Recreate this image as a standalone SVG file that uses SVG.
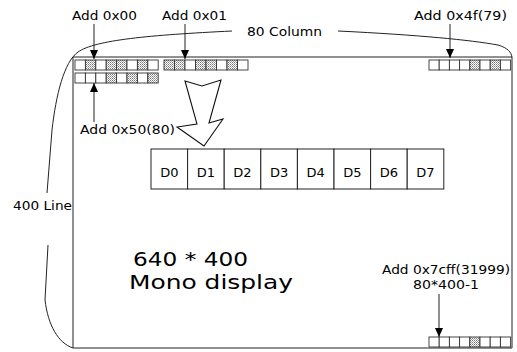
<svg xmlns="http://www.w3.org/2000/svg" width="517" height="352" viewBox="0 0 517 352">
<style>
text{font-family:"DejaVu Sans","Liberation Sans",sans-serif;fill:#000}
.lbl{font-size:13px}
.big{font-size:20px}
.ln{fill:none;stroke:#222;stroke-width:1}
.c{stroke:#333;stroke-width:0.9;fill:#fff}
.g{stroke:#333;stroke-width:0.9;fill:url(#dots)}
.db{fill:#fff;stroke:#222;stroke-width:1}
</style>
<defs>
<pattern id="dots" width="2" height="2" patternUnits="userSpaceOnUse">
<rect width="2" height="2" fill="#fff"/>
<rect width="1" height="1" fill="#777"/>
<rect x="1" y="1" width="1" height="1" fill="#aaa"/>
</pattern>
<marker id="ah" markerUnits="userSpaceOnUse" markerWidth="9" markerHeight="8" refX="9" refY="4" orient="auto">
<path d="M0,0 L9,4 L0,8 z" fill="#000"/>
</marker>
</defs>
<rect width="517" height="352" fill="#fff"/>

<g id="screen">
<path class="ln" d="M73 57 L512 57 L512 348 L73 348 Z"/>
</g>

<g id="brackets">
<path class="ln" d="M232 31 C150 35 95 40 78 52 C64 62 56 95 52 130 L47 193"/>
<path class="ln" d="M48 245 L45 300 C48 325 58 343 73 348"/>
<path class="ln" d="M338 31 C420 35 470 40 498 45 C508 48 511 52 512 57"/>
</g>

<g id="row1-group1">
<rect class="c" x="75" y="60" width="10.4" height="10"/>
<rect class="g" x="85.4" y="60" width="10.4" height="10"/>
<rect class="c" x="95.8" y="60" width="10.4" height="10"/>
<rect class="g" x="106.2" y="60" width="10.4" height="10"/>
<rect class="g" x="116.6" y="60" width="10.4" height="10"/>
<rect class="c" x="127" y="60" width="10.4" height="10"/>
<rect class="g" x="137.4" y="60" width="10.4" height="10"/>
<rect class="c" x="147.8" y="60" width="10.4" height="10"/>
</g>
<g id="row2-group1">
<rect class="c" x="75" y="73" width="10.4" height="10"/>
<rect class="c" x="85.4" y="73" width="10.4" height="10"/>
<rect class="c" x="95.8" y="73" width="10.4" height="10"/>
<rect class="g" x="106.2" y="73" width="10.4" height="10"/>
<rect class="c" x="116.6" y="73" width="10.4" height="10"/>
<rect class="g" x="127" y="73" width="10.4" height="10"/>
<rect class="c" x="137.4" y="73" width="10.4" height="10"/>
<rect class="g" x="147.8" y="73" width="10.4" height="10"/>
</g>
<g id="row1-group2">
<rect class="g" x="164" y="60" width="10.5" height="10"/>
<rect class="g" x="174.5" y="60" width="10.5" height="10"/>
<rect class="c" x="185" y="60" width="10.5" height="10"/>
<rect class="g" x="195.5" y="60" width="10.5" height="10"/>
<rect class="g" x="206" y="60" width="10.5" height="10"/>
<rect class="c" x="216.5" y="60" width="10.5" height="10"/>
<rect class="g" x="227" y="60" width="10.5" height="10"/>
<rect class="c" x="237.5" y="60" width="10.5" height="10"/>
</g>
<g id="row1-group3">
<rect class="c" x="429" y="60" width="10.2" height="10"/>
<rect class="c" x="439.2" y="60" width="10.2" height="10"/>
<rect class="c" x="449.4" y="60" width="10.2" height="10"/>
<rect class="c" x="459.6" y="60" width="10.2" height="10"/>
<rect class="g" x="469.8" y="60" width="10.2" height="10"/>
<rect class="c" x="480" y="60" width="10.2" height="10"/>
<rect class="g" x="490.2" y="60" width="10.2" height="10"/>
<rect class="c" x="500.4" y="60" width="10.2" height="10"/>
</g>
<g id="last-group">
<rect class="c" x="429" y="337" width="10.2" height="10"/>
<rect class="c" x="439.2" y="337" width="10.2" height="10"/>
<rect class="c" x="449.4" y="337" width="10.2" height="10"/>
<rect class="c" x="459.6" y="337" width="10.2" height="10"/>
<rect class="g" x="469.8" y="337" width="10.2" height="10"/>
<rect class="c" x="480" y="337" width="10.2" height="10"/>
<rect class="c" x="490.2" y="337" width="10.2" height="10"/>
<rect class="c" x="500.4" y="337" width="10.2" height="10"/>
</g>

<g id="bigarrow">
<polygon points="185,81 202,86 221,80 209,123 223,119 204,146 177,127 197,124" fill="#fff" stroke="#111" stroke-width="1.1" stroke-linejoin="miter"/>
</g>

<g id="bits">
<rect class="db" x="151" y="149" width="36.6" height="40"/>
<rect class="db" x="187.6" y="149" width="36.6" height="40"/>
<rect class="db" x="224.2" y="149" width="36.6" height="40"/>
<rect class="db" x="260.8" y="149" width="36.6" height="40"/>
<rect class="db" x="297.4" y="149" width="36.6" height="40"/>
<rect class="db" x="334" y="149" width="36.6" height="40"/>
<rect class="db" x="370.6" y="149" width="36.6" height="40"/>
<rect class="db" x="407.2" y="149" width="36.6" height="40"/>
<g class="lbl" text-anchor="middle">
<text x="169.3" y="177">D0</text>
<text x="205.9" y="177">D1</text>
<text x="242.5" y="177">D2</text>
<text x="279.1" y="177">D3</text>
<text x="315.7" y="177">D4</text>
<text x="352.3" y="177">D5</text>
<text x="388.9" y="177">D6</text>
<text x="425.5" y="177">D7</text>
</g>
</g>

<g id="connectors">
<line class="ln" x1="94" y1="24" x2="94" y2="59" marker-end="url(#ah)"/>
<line class="ln" x1="185" y1="24" x2="185" y2="59" marker-end="url(#ah)"/>
<line class="ln" x1="450" y1="24" x2="450" y2="58" marker-end="url(#ah)"/>
<line class="ln" x1="94" y1="122" x2="94" y2="83" marker-end="url(#ah)"/>
<line class="ln" x1="439" y1="294" x2="439" y2="337" marker-end="url(#ah)"/>
</g>

<g id="labels" class="lbl">
<text x="72" y="20" textLength="65" lengthAdjust="spacingAndGlyphs">Add 0x00</text>
<text x="162" y="20" textLength="65" lengthAdjust="spacingAndGlyphs">Add 0x01</text>
<text x="414" y="20" textLength="93" lengthAdjust="spacingAndGlyphs">Add 0x4f(79)</text>
<text x="247" y="36" textLength="75" lengthAdjust="spacingAndGlyphs">80 Column</text>
<text x="80" y="134" textLength="95" lengthAdjust="spacingAndGlyphs">Add 0x50(80)</text>
<text x="13" y="210" textLength="59" lengthAdjust="spacingAndGlyphs">400 Line</text>
<text x="382" y="274" textLength="128" lengthAdjust="spacingAndGlyphs">Add 0x7cff(31999)</text>
<text x="413" y="289" textLength="66" lengthAdjust="spacingAndGlyphs">80*400-1</text>
</g>
<g id="title" class="big">
<text x="133" y="266" textLength="115" lengthAdjust="spacingAndGlyphs">640 * 400</text>
<text x="129" y="289" textLength="164" lengthAdjust="spacingAndGlyphs">Mono display</text>
</g>
</svg>
